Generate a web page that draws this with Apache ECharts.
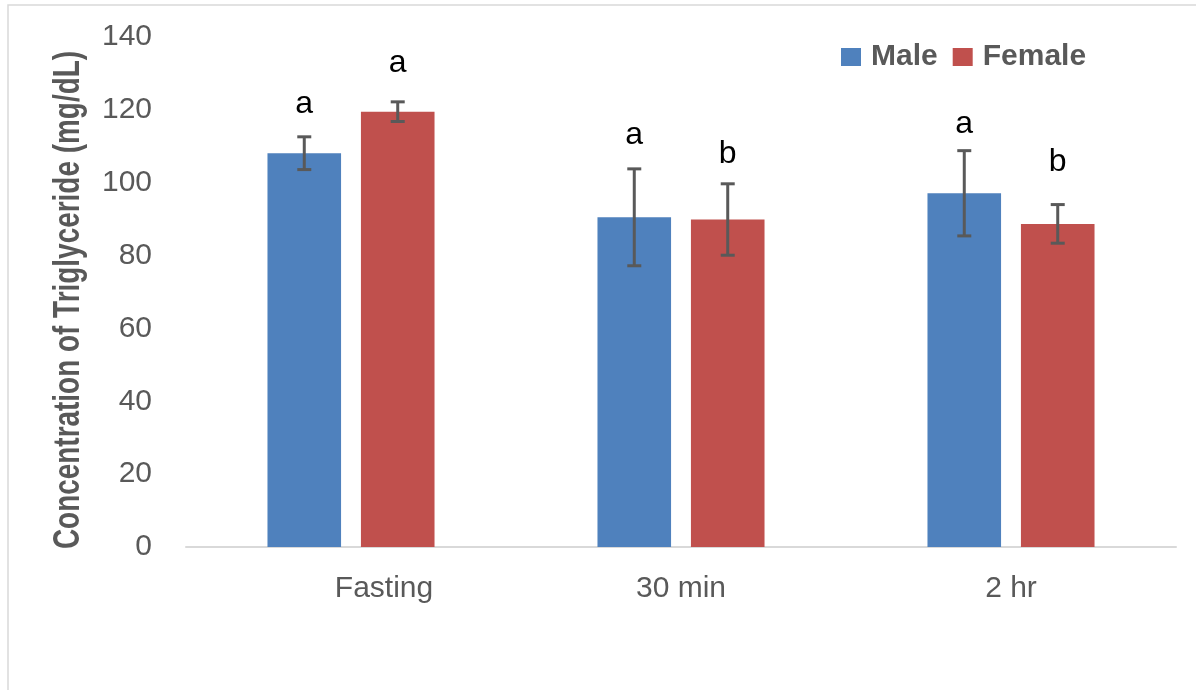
<!DOCTYPE html>
<html>
<head>
<meta charset="utf-8">
<script src="https://cdn.jsdelivr.net/npm/echarts@6/dist/echarts.min.js"></script>
<style>
html,body{margin:0;padding:0;background:#fff;}
#chart{width:1196px;height:690px;}
</style>
</head>
<body>
<div id="chart"></div>
<script>
const categories = ['Fasting', '30 min', '2 hr'];
const seriesNames = ['Male', 'Female'];
const maleMean = [108.1, 90.5, 97.1];
const maleSD = [4.5, 13.3, 11.7];
const femaleMean = [119.5, 89.9, 88.7];
const femaleSD = [2.7, 9.8, 5.3];
const maleLetters = ['a', 'a', 'a'];
const femaleLetters = ['a', 'b', 'b'];
const maleLetterY = [118.6, 109.9, 113.1];
const femaleLetterY = [129.8, 104.7, 102.7];
const yMin = 0, yMax = 140, yInterval = 20;
const yTitle = 'Concentration of Triglyceride (mg/dL)';

const FONT = "'Liberation Sans', Arial, sans-serif";
const BAR_W = 0.223, BAR_GAP = 0.27;

function errData(mean, sd, letterY) {
  return mean.map((m, j) => [j, m - sd[j], m + sd[j], letterY[j]]);
}

function makeErr(sign, letters) {
  return function (params, api) {
    const j = api.value(0);
    const lo = api.coord([j, api.value(1)]);
    const hi = api.coord([j, api.value(2)]);
    const ly = api.coord([j, api.value(3)]);
    const band = api.size([1, 0])[0];
    const bw = band * BAR_W;
    const off = (bw + bw * BAR_GAP) / 2 * sign;
    const x = lo[0] + off;
    const cap = 7;
    const st = { stroke: '#595959', lineWidth: 3 };
    return {
      type: 'group',
      children: [
        { type: 'line', shape: { x1: x, y1: hi[1], x2: x, y2: lo[1] }, style: st },
        { type: 'line', shape: { x1: x - cap, y1: hi[1], x2: x + cap, y2: hi[1] }, style: st },
        { type: 'line', shape: { x1: x - cap, y1: lo[1], x2: x + cap, y2: lo[1] }, style: st },
        { type: 'text', x: x, y: ly[1] - 11,
          style: { text: letters[j], fill: '#000', font: '32px ' + FONT, align: 'center', verticalAlign: 'middle' } }
      ]
    };
  };
}

const chart = echarts.init(document.getElementById('chart'), null, { renderer: 'canvas' });
chart.setOption({
  animation: false,
  backgroundColor: '#fff',
  grid: { left: 186, right: 20, top: 37, bottom: 143, containLabel: false },
  legend: {
    data: seriesNames,
    left: 836, top: 37,
    itemWidth: 20, itemHeight: 18, itemGap: 15,
    selectedMode: false,
    icon: 'rect',
    textStyle: { color: '#595959', fontSize: 30, fontWeight: 'bold', fontFamily: FONT, padding: [0, 0, 0, 5] }
  },
  xAxis: {
    type: 'category',
    data: categories,
    axisLine: { lineStyle: { color: '#D9D9D9', width: 2 } },
    axisTick: { show: false },
    axisLabel: {
      color: '#595959', fontSize: 30, fontFamily: FONT, margin: 27,
      formatter: function (v, i) { return i === 0 ? '{s|' + v + '}' : v; },
      rich: { s: { color: '#595959', fontSize: 30, fontFamily: FONT, padding: [0, 0, 0, 66] } }
    }
  },
  yAxis: {
    type: 'value',
    min: yMin, max: yMax, interval: yInterval,
    splitLine: { show: false },
    axisLine: { show: false },
    axisTick: { show: false },
    axisLabel: { color: '#595959', fontSize: 30, fontFamily: FONT, margin: 34 }
  },
  graphic: [
    { type: 'rect', shape: { x: 8, y: 5, width: 1200, height: 700 },
      style: { fill: 'none', stroke: '#D9D9D9', lineWidth: 1.5 }, silent: true, z: -10 },
    { type: 'text', x: 69, y: 300, rotation: Math.PI / 2, scaleX: 0.755, scaleY: 1,
      style: { text: yTitle, fill: '#595959', font: 'bold 37px ' + FONT, align: 'center', verticalAlign: 'middle' } }
  ],
  series: [
    { name: 'Male', type: 'bar', data: maleMean, barWidth: (BAR_W * 100) + '%', barGap: (BAR_GAP * 100) + '%',
      itemStyle: { color: '#4F81BD' } },
    { name: 'Female', type: 'bar', data: femaleMean, barWidth: (BAR_W * 100) + '%', barGap: (BAR_GAP * 100) + '%',
      itemStyle: { color: '#C0504D' } },
    { type: 'custom', data: errData(maleMean, maleSD, maleLetterY), renderItem: makeErr(-1, maleLetters),
      encode: { x: 0, y: [1, 2] }, z: 5 },
    { type: 'custom', data: errData(femaleMean, femaleSD, femaleLetterY), renderItem: makeErr(1, femaleLetters),
      encode: { x: 0, y: [1, 2] }, z: 5 }
  ]
});
</script>
</body>
</html>
